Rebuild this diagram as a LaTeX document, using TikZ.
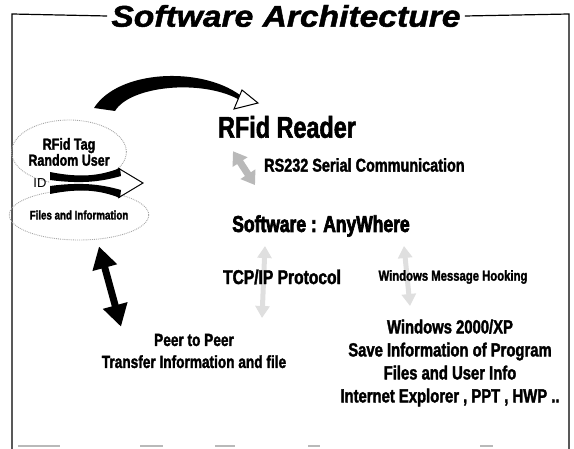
\documentclass[tikz,border=0pt]{standalone}
\usepackage{fontspec}
\setmainfont{Liberation Sans}
\newfontfamily\narrowsf[FakeStretch=0.78, BoldFeatures={FakeBold=1.8}]{Liberation Sans}
\newfontfamily\heavysf[FakeStretch=0.76, BoldFeatures={FakeBold=3}]{Liberation Sans}
\newfontfamily\titlesf[FakeStretch=1.12, BoldItalicFeatures={FakeBold=1.5}]{Liberation Sans}
\usetikzlibrary{shapes.geometric, arrows.meta}
\tikzstyle{frame} = [line width=1.2pt, black]
\tikzstyle{txt} = [inner sep=0pt, align=center, font=\narrowsf\bfseries\fontsize{19}{23}\selectfont]
\tikzstyle{bubble} = [ellipse, draw=gray!70, densely dotted, line width=0.9pt, inner sep=0pt, align=center, font=\narrowsf\bfseries\fontsize{16}{16}\selectfont]
\tikzstyle{fatarrow} = [line width=7pt, {Triangle[width=24pt,length=22pt]}-{Triangle[width=24pt,length=22pt]}]
\tikzstyle{greyarrow} = [line width=7pt, draw=gray!55, {Triangle[width=17pt,length=13pt]}-{Triangle[width=17pt,length=13pt]}]
\tikzstyle{faintarrow} = [line width=5pt, draw=gray!25, {Triangle[width=14pt,length=12pt]}-{Triangle[width=14pt,length=12pt]}]

\begin{document}
\begin{tikzpicture}[x=1pt, y=-1pt]
\useasboundingbox (0,0) rectangle (574,449);

\node (title) [font=\titlesf\bfseries\itshape\fontsize{30}{32}\selectfont, inner sep=4pt] at (286,16) {Software Architecture};
\draw [frame] (12,449) -- (12,14) -- (title.west);
\draw [frame] (title.east) -- (569,14) -- (569,449);
\foreach \a/\b in {18/60, 140/163, 215/235, 308/320, 480/493}
  \draw [gray!55, line width=2pt] (\a,446) -- (\b,446);

% left side: tag and files
\node (tag) [bubble, minimum width=112pt, minimum height=64pt] at (69,152) {RFid Tag\\Random User};
\node (files) [bubble, minimum width=128pt, minimum height=50pt, font=\narrowsf\bfseries\fontsize{12.5}{13}\selectfont] at (79,215) {Files and Information};
\node (id) [font=\fontsize{13}{13}\selectfont, inner sep=0pt] at (40,183) {ID};
\fill [white] (50,176) -- (118,176) -- (118,170) -- (143,183) -- (118,196) -- (118,190) -- (50,190) -- cycle;
\fill (50,172) .. controls (80,178) and (100,176) .. (120,168) -- (121,176) .. controls (100,182) and (80,184) .. (50,180) -- cycle;
\fill (50,194) .. controls (80,188) and (100,190) .. (120,198) -- (121,190) .. controls (100,184) and (80,182) .. (50,186) -- cycle;
\draw [line width=1pt] (118,168) -- (143,183) -- (118,198);

% right side labels
\node (reader) [txt, font=\narrowsf\bfseries\fontsize{30}{32}\selectfont] at (287,127) {RFid Reader};
\node (rs) [txt, anchor=west, font=\narrowsf\bfseries\fontsize{18.5}{20}\selectfont] at (264,165) {RS232 Serial Communication};
\node (anywhere) [txt, font=\heavysf\bfseries\fontsize{23}{25}\selectfont] at (321,226) {Software : AnyWhere};

% top swoosh from tag to reader
\coordinate (swooshtip) at (258,103);
\fill (94,108) .. controls (118,70) and (200,66) .. (240,95)
  -- (238,99) .. controls (200,79) and (130,86) .. (115,111) -- cycle;
\draw [line width=1pt, fill=white] (swooshtip) -- (234,109) -- (242,90) -- cycle;

% links
\draw [greyarrow] ([xshift=-54pt,yshift=-13pt]reader.south) -- ([xshift=-66pt,yshift=30pt]anywhere.north);
\draw [faintarrow] (265,246) -- (262,318);
\draw [faintarrow] (404,246) -- (410,306);

\node (tcp) [txt, font=\narrowsf\bfseries\fontsize{20}{22}\selectfont] at (282,277) {TCP/IP Protocol};
\node (hook) [txt, font=\narrowsf\bfseries\fontsize{14.5}{16}\selectfont] at (453,277) {Windows Message Hooking};
\node (peer) [txt, font=\narrowsf\bfseries\fontsize{17.5}{22}\selectfont] at (194,351) {Peer to Peer\\Transfer Information and file};
\node (win) [txt] at (450,363) {Windows 2000/XP\\Save Information of Program\\Files and User Info\\Internet Explorer , PPT , HWP ..};

\draw [fatarrow] ([xshift=20pt,yshift=-6pt]files.south) -- ([xshift=-73pt,yshift=7pt]peer.north);

\end{tikzpicture}
\end{document}
